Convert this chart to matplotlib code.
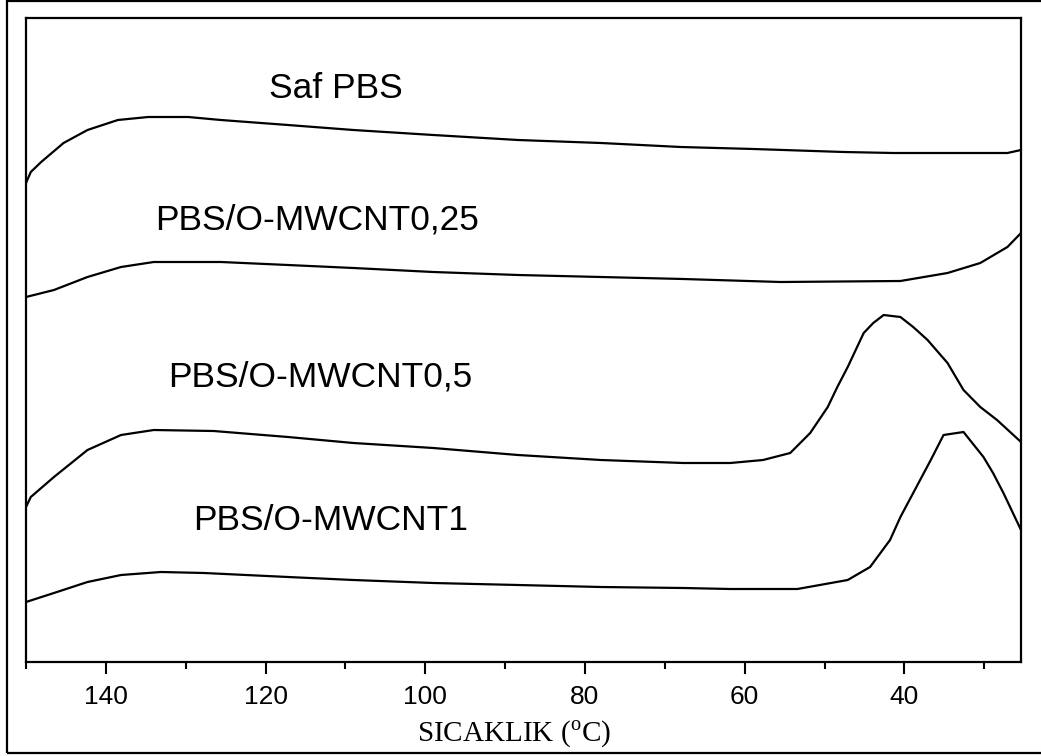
import matplotlib
matplotlib.use("Agg")
import matplotlib.pyplot as plt
from matplotlib.patches import Rectangle
from matplotlib.ticker import MultipleLocator

plt.rcParams["mathtext.fontset"] = "custom"
plt.rcParams["mathtext.rm"] = "Liberation Serif"

# DSC cooling scans: temperature (°C) and heat flow (arbitrary units, offset)
t_pbs = [150.0, 149.4, 148.1, 145.3, 142.3, 138.5, 134.7, 129.7, 125.6, 117.2,
         109.0, 99.0, 88.4, 78.0, 68.0, 58.9, 47.6, 41.4, 27.1, 25.4]
hf_pbs = [4.79, 4.90, 5.00, 5.19, 5.32, 5.42, 5.45, 5.45, 5.42, 5.37,
          5.32, 5.27, 5.22, 5.19, 5.15, 5.13, 5.10, 5.09, 5.09, 5.12]

t_025 = [150.0, 146.5, 142.3, 138.1, 134.0, 125.6, 117.2, 109.0, 99.0, 88.4,
         78.0, 67.7, 55.5, 40.5, 34.6, 30.5, 27.1, 25.4]
hf_025 = [3.65, 3.72, 3.85, 3.95, 4.00, 4.00, 3.97, 3.94, 3.90, 3.87,
          3.85, 3.83, 3.80, 3.81, 3.89, 3.99, 4.15, 4.29]

t_05 = [150.0, 149.4, 146.5, 142.3, 138.1, 134.0, 126.5, 117.2, 109.0, 99.0,
        88.4, 78.0, 67.7, 61.8, 57.7, 54.3, 51.8, 49.6, 48.4, 47.1,
        45.1, 43.9, 42.6, 40.5, 38.9, 37.1, 34.6, 32.6, 30.5, 28.4,
        25.4]
hf_05 = [1.55, 1.65, 1.85, 2.12, 2.27, 2.32, 2.31, 2.25, 2.19, 2.14,
         2.07, 2.02, 1.99, 1.99, 2.02, 2.09, 2.29, 2.55, 2.75, 2.95,
         3.29, 3.39, 3.47, 3.45, 3.35, 3.22, 2.99, 2.72, 2.55, 2.42,
         2.20]

t_1 = [150.0, 146.5, 142.3, 138.1, 133.1, 127.7, 117.2, 109.0, 99.0, 88.4,
       78.0, 67.7, 61.8, 53.4, 47.1, 44.3, 41.8, 40.5, 38.9, 36.7,
       35.1, 32.6, 30.1, 28.9, 27.6, 25.4]
hf_1 = [0.60, 0.69, 0.80, 0.87, 0.90, 0.89, 0.85, 0.82, 0.79, 0.77,
        0.75, 0.74, 0.73, 0.73, 0.82, 0.95, 1.22, 1.45, 1.69, 2.02,
        2.27, 2.30, 2.05, 1.89, 1.69, 1.32]

curve_labels = ["Saf PBS", "PBS/O-MWCNT0,25", "PBS/O-MWCNT0,5", "PBS/O-MWCNT1"]
label_pos = [(111.2, 5.74), (113.6, 4.42), (113.1, 2.85), (111.8, 1.42)]

x_ticks = [140, 120, 100, 80, 60, 40]

fig = plt.figure(figsize=(10.41, 7.56), dpi=100)
ax = fig.add_axes([26 / 1041, 94 / 756, 995 / 1041, 644 / 756])

for t, hf in [(t_pbs, hf_pbs), (t_025, hf_025), (t_05, hf_05), (t_1, hf_1)]:
    ax.plot(t, hf, color="black", lw=1.6, solid_joinstyle="round")

for text, (tx, ty) in zip(curve_labels, label_pos):
    ax.text(tx, ty, text, ha="center", va="center", fontsize=25.5,
            family="Liberation Sans", color="black")

ax.set_xlim(150, 25.4)
ax.set_ylim(0, 6.44)
ax.set_xticks(x_ticks)
ax.xaxis.set_minor_locator(MultipleLocator(10))
ax.set_yticks([])
ax.tick_params(axis="x", which="major", direction="out", length=8.5, width=1.5,
               labelsize=19, pad=8)
ax.tick_params(axis="x", which="minor", direction="out", length=5, width=1.5)
for lab in ax.get_xticklabels():
    lab.set_family("Liberation Sans")
for sp in ax.spines.values():
    sp.set_linewidth(1.6)

fig.text(514 / 1041, 1 - 734 / 756, r"SICAKLIK ($^{\mathrm{o}}$C)",
         ha="center", va="center", fontsize=21, family="Liberation Serif")

# outer frame around the figure
fig.patches.append(Rectangle((7 / 1041, 3 / 756), 1.1, 752 / 756,
                             transform=fig.transFigure, fill=False,
                             edgecolor="black", lw=1.6, clip_on=False))

fig.savefig("out.png", dpi=100)
